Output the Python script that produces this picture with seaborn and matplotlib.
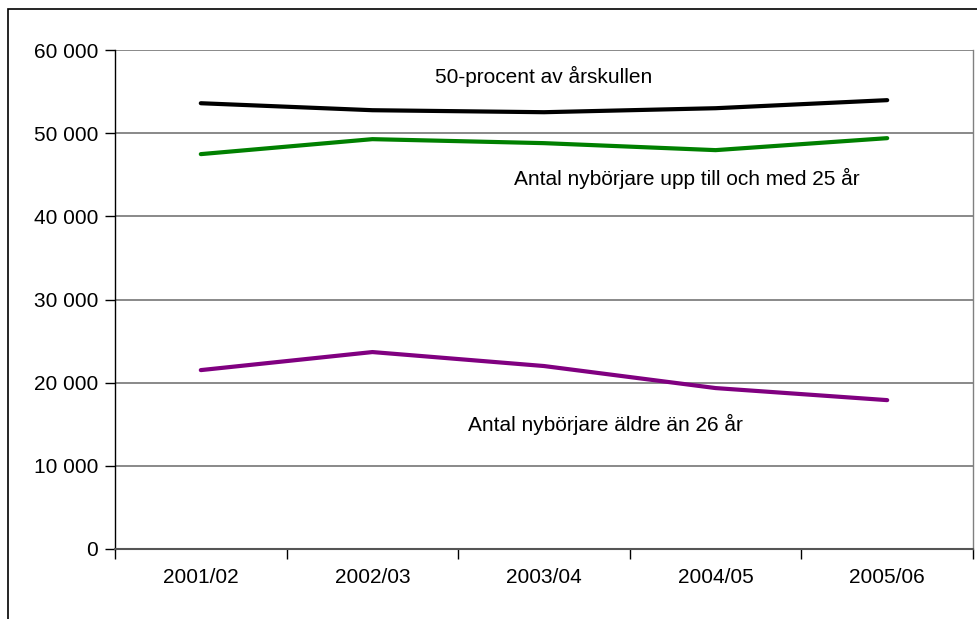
import pandas as pd
import seaborn as sns
import matplotlib.pyplot as plt
from matplotlib.patches import Rectangle
from matplotlib.ticker import FuncFormatter, FixedLocator

years = ["2001/02", "2002/03", "2003/04", "2004/05", "2005/06"]
halva_arskullen = [53600, 52760, 52520, 53000, 53970]
upp_till_25 = [47480, 49280, 48800, 47960, 49400]
aldre_an_26 = [21510, 23680, 22000, 19350, 17900]

series_names = ["50-procent av årskullen",
                "Antal nybörjare upp till och med 25 år",
                "Antal nybörjare äldre än 26 år"]
colors = ["#000000", "#008000", "#800080"]

rows = []
for name, vals in zip(series_names, [halva_arskullen, upp_till_25, aldre_an_26]):
    for y, v in zip(years, vals):
        rows.append({"year": y, "value": v, "series": name})
df = pd.DataFrame(rows)

sns.set_style("white")
plt.rcParams['font.family'] = ['Liberation Sans', 'DejaVu Sans']
plt.rcParams['text.color'] = 'black'
plt.rcParams['xtick.color'] = 'black'
plt.rcParams['ytick.color'] = 'black'

fs = 15

fig = plt.figure(figsize=(9.78, 6.19), dpi=100)
ax = fig.add_axes([115/978, 1-549/619, (973-115)/978, (549-50)/619])

sns.lineplot(data=df, x="year", y="value", hue="series", palette=colors,
             linewidth=3.0, legend=False, ax=ax, sort=False)

ax.set_xlim(-0.5, 4.5)
ax.set_ylim(0, 60000)
ax.set_yticks(range(0, 60001, 10000))
ax.yaxis.set_major_formatter(FuncFormatter(lambda v, p: f"{int(v):,}".replace(",", " ")))
ax.grid(axis='y', color='#808080', linewidth=1.3)
ax.set_axisbelow(True)

ax.set_xticks(range(5))
ax.set_xticklabels(years)
ax.xaxis.set_minor_locator(FixedLocator([-0.5, 0.5, 1.5, 2.5, 3.5, 4.5]))
ax.tick_params(axis='x', which='major', bottom=True, length=0, pad=14, labelsize=fs, labelcolor='black')
ax.tick_params(axis='x', which='minor', bottom=True, length=7, width=1, color='black', direction='out')
ax.tick_params(axis='y', left=True, length=7, width=1, color='black', direction='out', pad=5,
               labelsize=fs, labelcolor='black')
ax.set_xlabel("")
ax.set_ylabel("")

ax.spines["top"].set_visible(False)
ax.spines["left"].set_color("black")
ax.spines["left"].set_linewidth(1)
ax.spines["bottom"].set_color("#555555")
ax.spines["bottom"].set_linewidth(1.5)
ax.spines["right"].set_color("#808080")
ax.spines["right"].set_linewidth(1)

ax.text(2.0, 56800, series_names[0], ha='center', va='center', fontsize=fs, color='black')
ax.text(2.83, 44600, series_names[1], ha='center', va='center', fontsize=fs, color='black')
ax.text(2.36, 14950, series_names[2], ha='center', va='center', fontsize=fs, color='black')

fig.patches.append(Rectangle((8/978, -0.1), 1.2, 1 - 9/619 + 0.1, transform=fig.transFigure,
                             fill=False, edgecolor='black', linewidth=1.2))

fig.savefig("out.png", dpi=100)
